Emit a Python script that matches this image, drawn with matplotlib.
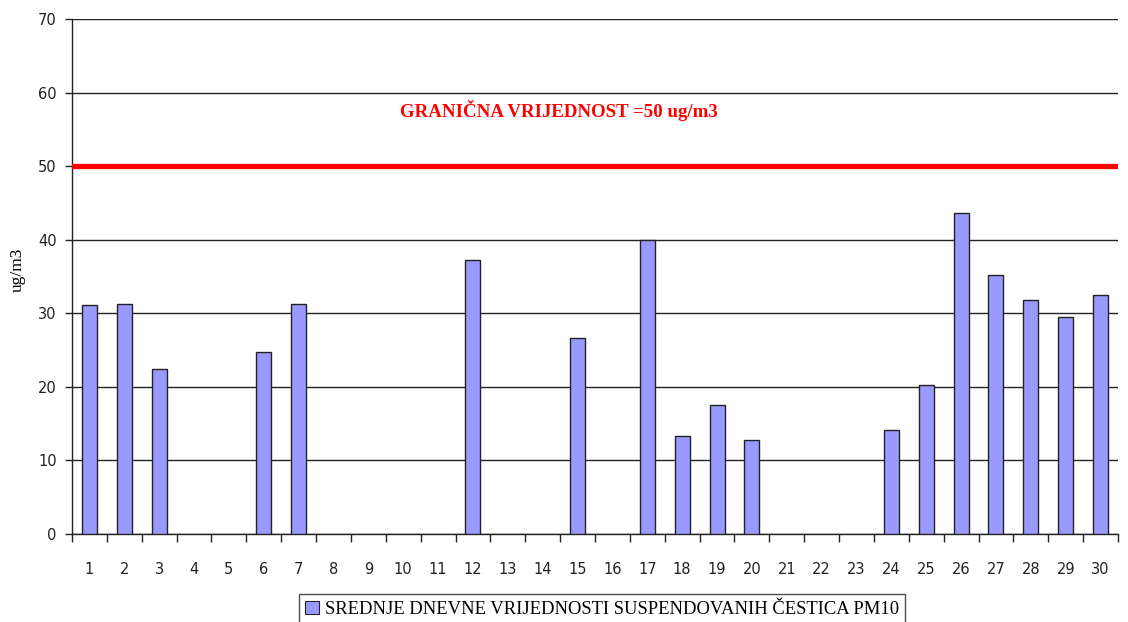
import matplotlib
matplotlib.use("Agg")
import matplotlib.pyplot as plt
from matplotlib.patches import Patch

nan = float("nan")
days = list(range(1, 31))
day_labels = [str(d) for d in days]
pm10 = [31.1, 31.3, 22.4, nan, nan, 24.7, 31.3, nan, nan, nan, nan, 37.2, nan, nan, 26.7,
        nan, 40.0, 13.3, 17.5, 12.8, nan, nan, nan, 14.1, 20.2, 43.6, 35.2, 31.8, 29.5, 32.5]
limit_value = 50
limit_text = "GRANIČNA VRIJEDNOST =50 ug/m3"
legend_label = "SREDNJE DNEVNE VRIJEDNOSTI SUSPENDOVANIH ČESTICA PM10"
y_label = "ug/m3"
y_ticks = [0, 10, 20, 30, 40, 50, 60, 70]

fig = plt.figure(figsize=(11.28, 6.22), dpi=100)
ax = fig.add_axes([72/1128, 1-534/622, (1118-72)/1128, (534-19)/622])

ax.bar(days, pm10, width=0.43, color="#9999ff", edgecolor="#222222", linewidth=1.0, zorder=3)
ax.axhline(limit_value, color="#ff0000", linewidth=3.8, zorder=4)
ax.text(14.47, 57.5, limit_text, color="#ff0000", fontsize=13.6, fontweight="bold",
        family="Liberation Serif", ha="center", va="center")

ax.set_xlim(0.5, 30.5)
ax.set_ylim(0, 70)
ax.set_yticks(y_ticks)
ax.set_yticklabels([str(v) for v in y_ticks], fontsize=10.5, color="#222222")
ax.yaxis.grid(True, color="#222222", linewidth=1.0, zorder=0)
ax.set_axisbelow(True)

# category boundaries as major ticks, labels at centers
ax.set_xticks([d + 0.5 for d in [0] + days])
ax.set_xticklabels([])
ax.set_xticks(days, minor=True)
ax.set_xticklabels(day_labels, minor=True, fontsize=10.5, color="#222222")
ax.tick_params(axis="x", which="major", direction="out", length=6, width=1, color="#222222")
ax.tick_params(axis="x", which="minor", length=0, pad=20)
ax.tick_params(axis="y", direction="out", length=5, width=1, color="#222222", pad=6)

for s in ["top", "right"]:
    ax.spines[s].set_visible(False)
for s in ["left", "bottom"]:
    ax.spines[s].set_color("#222222")
    ax.spines[s].set_linewidth(1.0)

fig.text(18/1128, 1-270/622, y_label, rotation=90, ha="center", va="center",
         family="Liberation Serif", fontsize=12.5)

handle = Patch(facecolor="#9999ff", edgecolor="#222222", linewidth=0.8)
leg = fig.legend([handle], [legend_label], loc="upper center",
                 bbox_to_anchor=(602/1128, 1-594/622), frameon=True, fancybox=False,
                 edgecolor="#222222", prop={"family": "Liberation Serif", "size": 13.4},
                 handlelength=0.75, handleheight=0.75, handletextpad=0.3,
                 borderpad=0.35, borderaxespad=0)
leg.get_frame().set_linewidth(1.0)

fig.savefig("out.png", dpi=100)
